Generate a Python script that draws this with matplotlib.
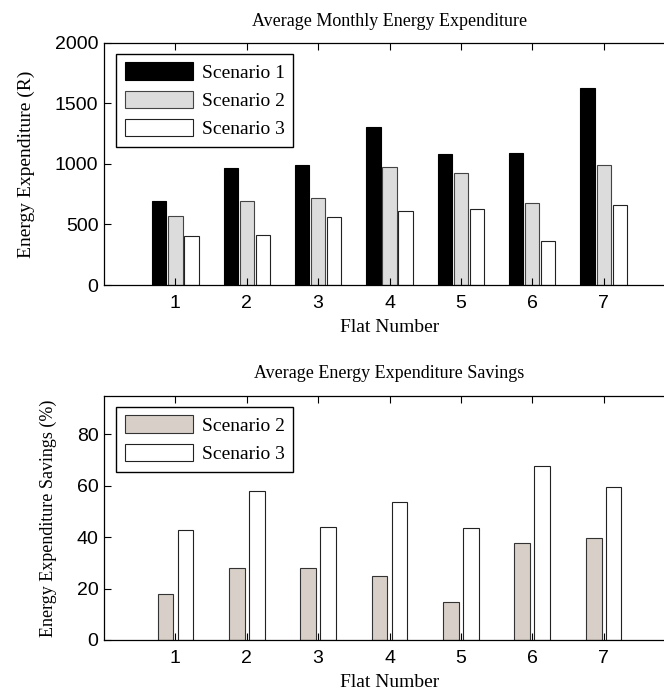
import numpy as np
import matplotlib.pyplot as plt

flats = [1, 2, 3, 4, 5, 6, 7]

# average monthly expenditure (R)
scenario1 = [690, 963, 990, 1302, 1081, 1092, 1630]
scenario2 = [572, 690, 715, 977, 922, 674, 990]
scenario3 = [402, 415, 558, 611, 624, 366, 663]

# savings (%)
savings2 = [17.7, 28.1, 28.1, 25.0, 14.6, 37.8, 39.7]
savings3 = [42.7, 57.9, 44.0, 53.7, 43.4, 67.7, 59.4]

serif = "Liberation Serif"
sans = "Liberation Sans"

fig = plt.figure(figsize=(6.64, 6.93), dpi=100)
ax1 = fig.add_axes([0.1566, 0.5887, 0.860, 0.3496])
ax2 = fig.add_axes([0.1566, 0.0765, 0.860, 0.3525])

x = np.array(flats)

w = 0.2
ax1.bar(x - 0.225, scenario1, w, color="black", edgecolor="black", linewidth=0.8, label="Scenario 1")
ax1.bar(x, scenario2, w, color="#dcdcdc", edgecolor="#444444", linewidth=0.8, label="Scenario 2")
ax1.bar(x + 0.225, scenario3, w, color="white", edgecolor="#222222", linewidth=0.8, label="Scenario 3")
ax1.set_xlim(0, 8)
ax1.set_ylim(0, 2000)
ax1.set_yticks([0, 500, 1000, 1500, 2000])
ax1.set_title("Average Monthly Energy Expenditure", fontfamily=serif, fontsize=13, pad=12)
ax1.set_ylabel("Energy Expenditure (R)", fontfamily=serif, fontsize=14, labelpad=14)

w2 = 0.22
ax2.bar(x - 0.14, savings2, w2, color="#d8d0c8", edgecolor="#333333", linewidth=0.8, label="Scenario 2")
ax2.bar(x + 0.14, savings3, w2, color="white", edgecolor="#222222", linewidth=0.8, label="Scenario 3")
ax2.set_xlim(0, 8)
ax2.set_ylim(0, 95)
ax2.set_yticks([0, 20, 40, 60, 80])
ax2.set_title("Average Energy Expenditure Savings", fontfamily=serif, fontsize=13, pad=13)
ax2.set_ylabel("Energy Expenditure Savings (%)", fontfamily=serif, fontsize=13, labelpad=14)

for ax in (ax1, ax2):
    ax.set_xticks(flats)
    ax.set_xlabel("Flat Number", fontfamily=serif, fontsize=14, labelpad=5)
    ax.tick_params(direction="in", length=5, width=0.8, top=True, right=True, labelsize=14)
    ax.tick_params(axis="x", pad=7)
    ax.tick_params(axis="y", pad=4)
    for lab in ax.get_xticklabels() + ax.get_yticklabels():
        lab.set_fontfamily(sans)
    for s in ax.spines.values():
        s.set_linewidth(0.9)
    leg = ax.legend(loc="upper left", bbox_to_anchor=(0.021, 0.955), borderaxespad=0,
                    prop={"family": serif, "size": 14}, fancybox=False,
                    edgecolor="black", framealpha=1, handlelength=3.5,
                    handleheight=1.0, handletextpad=0.45, labelspacing=0.45,
                    borderpad=0.45)
    leg.get_frame().set_linewidth(1.0)

fig.savefig("out.png", dpi=100)
